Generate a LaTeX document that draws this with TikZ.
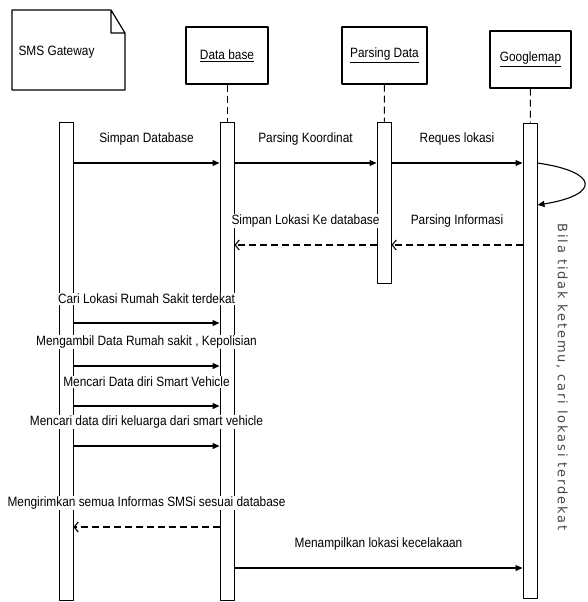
\documentclass[tikz,border=0pt]{standalone}
\usepackage{fontspec}
\setmainfont{Liberation Sans}[FakeStretch=0.88]
\newfontfamily\sidefont{DejaVu Sans}[LetterSpace=14]
\usetikzlibrary{arrows.meta}
\tikzset{
  head/.style={draw,line width=1.2pt,minimum height=57pt,inner sep=0pt},
  bar/.style={draw,line width=1pt,fill=white,minimum width=14pt,inner sep=0pt},
  life/.style={line width=1pt,dash pattern=on 7pt off 4pt},
  msg/.style={line width=1.1pt,-{Triangle[length=7pt,width=6pt]}},
  ret/.style={line width=1.1pt,dash pattern=on 7pt off 4pt,-{Straight Barb[length=4pt,width=10pt]}},
  lbl/.style={fill=white,inner sep=1pt,yshift=24pt}
}
\begin{document}
\begin{tikzpicture}[x=1pt,y=-1pt,line join=round,font=\fontsize{13.5}{15}\selectfont]
\useasboundingbox(0,0)rectangle(587,602);
\draw[line width=1.2pt](12,10)--(111,10)--(125,33)--(125,90)--(12,90)--cycle(111,10)--(111,33)--(125,33);
\node[anchor=west](gw)at(15,52){SMS Gateway};
\node[head,minimum width=82pt](db)at(227,55.5){\underline{Data base}};
\node[head,minimum width=85pt](parse)at(384.5,55.5){\underline{Parsing Data}};
\node[head,minimum width=81pt](gmap)at(530.5,59.5){\underline{Googlemap}};
\node[bar,minimum height=478pt](smsbar)at(66,361){};
\node[bar,minimum height=478pt](dbbar)at(227,361){};
\node[bar,minimum height=161pt](parsebar)at(384,202.5){};
\node[bar,minimum height=475pt](gmapbar)at(530,360.5){};
\draw[life](db)--(dbbar);
\draw[life](parse)--(parsebar);
\draw[life](gmap)--(gmapbar);
\foreach \y/\a/\b/\t in{163/smsbar/dbbar/Simpan Database,163/dbbar/parsebar/Parsing Koordinat,163/parsebar/gmapbar/Reques lokasi,
  323/smsbar/dbbar/Cari Lokasi Rumah Sakit terdekat,366/smsbar/dbbar/{Mengambil Data Rumah sakit , Kepolisian},
  406/smsbar/dbbar/Mencari Data diri Smart Vehicle,446/smsbar/dbbar/Mencari data diri keluarga dari smart vehicle,
  568/dbbar/gmapbar/Menampilkan lokasi kecelakaan}
  \draw[msg](\a.east|-0,\y)--(\b.west|-0,\y)node[lbl,midway]{\t};
\foreach \y/\a/\b/\t in{245/gmapbar/parsebar/Parsing Informasi,245/parsebar/dbbar/Simpan Lokasi Ke database,
  527/dbbar/smsbar/Mengirimkan semua Informas SMSi sesuai database}
  \draw[ret](\a.west|-0,\y)--(\b.east|-0,\y)node[lbl,midway]{\t};
\draw[msg](gmapbar.east|-0,163)..controls(600,172)and(600,195)..(gmapbar.east|-0,205);
\node[rotate=-90,text=black!72,font=\sidefont\fontsize{13}{15}\selectfont](cond)at(562,377){Bila tidak ketemu, cari lokasi terdekat};
\end{tikzpicture}
\end{document}
